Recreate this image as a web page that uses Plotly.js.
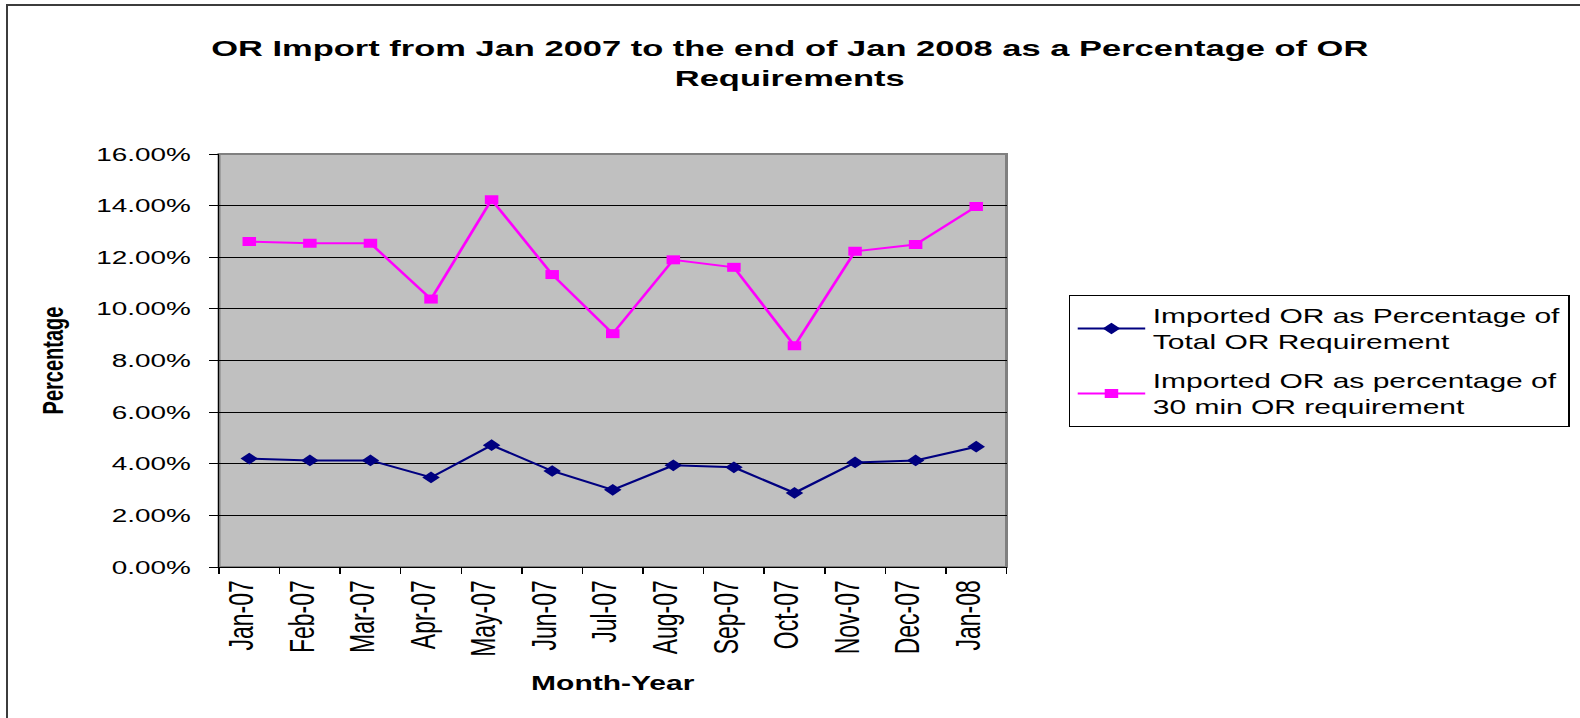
<!DOCTYPE html>
<html><head><meta charset="utf-8">
<script src="https://cdn.plot.ly/plotly-3.0.1.min.js"></script>
<style>
html,body{margin:0;padding:0;background:#fff;overflow:hidden;width:1580px;height:718px;}
#clip{position:absolute;left:0;top:0;width:1580px;height:718px;overflow:hidden;}
#wrap{position:absolute;left:0;top:0;width:1053px;height:718px;transform:scaleX(1.5);transform-origin:0 0;}
#frame{position:absolute;left:6px;top:4px;width:1640px;height:760px;box-sizing:border-box;border-top:2px solid #3c3c3c;border-left:2px solid #3c3c3c;pointer-events:none;}
</style></head><body>
<div id="clip">
<div id="wrap"><div id="chart" style="width:1053px;height:718px"></div></div>
<div id="frame"></div>
</div>
<script>
const months = ['Jan-07','Feb-07','Mar-07','Apr-07','May-07','Jun-07','Jul-07','Aug-07','Sep-07','Oct-07','Nov-07','Dec-07','Jan-08'];
const pctTotalReq = [0.0420,0.0413,0.0413,0.0347,0.0472,0.0372,0.0299,0.0394,0.0386,0.0287,0.0405,0.0413,0.0466];
const pct30MinReq = [0.1261,0.1254,0.1254,0.1038,0.1423,0.1133,0.0904,0.1190,0.1161,0.0857,0.1223,0.1249,0.1397];
const seriesNames = ['Imported OR as Percentage of<br>Total OR Requirement','Imported OR as percentage of<br>30 min OR requirement'];
const titleText = 'OR Import from Jan 2007 to the end of Jan 2008 as a Percentage of OR<br>Requirements';
const xTitle = 'Month-Year';
const yTitle = 'Percentage';

const FONT = 'Liberation Sans, Arial, sans-serif';
const traces = [
  {x: months, y: pctTotalReq, name: seriesNames[0], legendgroup: 'g1', type: 'scatter', mode: 'lines+markers',
   line: {color: '#000080', width: 2}, marker: {symbol: 'diamond', size: 9, color: '#000080'}},
  {x: months, y: pct30MinReq, name: seriesNames[1], legendgroup: 'g2', type: 'scatter', mode: 'lines+markers',
   line: {color: '#FF00FF', width: 2}, marker: {symbol: 'square', size: 9, color: '#FF00FF'}}
];
const layout = {
  width: 1053, height: 718,
  margin: {l: 146, r: 382, t: 154, b: 151, autoexpand: false},
  paper_bgcolor: '#ffffff', plot_bgcolor: '#C0C0C0',
  font: {family: FONT, color: '#000'},
  title: {text: titleText, font: {family: FONT, size: 23, weight: 'bold', color: '#000'},
          x: 0.5, xref: 'container', xanchor: 'center', y: 1 - 56/718, yref: 'container', yanchor: 'top'},
  xaxis: {type: 'category', range: [-0.5, 12.5], autorange: false, showline: true, linecolor: '#000', linewidth: 1, ticks: 'outside', tickson: 'boundaries',
          ticklen: 6, tickcolor: '#000', tickangle: -90, showgrid: false, zeroline: false,
          ticklabelstandoff: 3, ticklabelshift: -5,
          tickfont: {family: FONT, size: 23, color: '#000'},
          title: {text: xTitle, font: {family: FONT, size: 20, weight: 'bold', color: '#000'}, standoff: 20}},
  yaxis: {range: [0, 0.16], autorange: false, dtick: 0.02, tick0: 0, tickformat: '.2%', showline: true, linecolor: '#000', linewidth: 1,
          ticks: 'outside', ticklen: 6, tickcolor: '#000', showgrid: true, gridcolor: '#000', gridwidth: 1, zeroline: false,
          ticklabelstandoff: 8,
          tickfont: {family: FONT, size: 18.6, color: '#000'},
          title: {text: yTitle, font: {family: FONT, size: 20, weight: 'bold', color: '#000'}, standoff: 16}},
  legend: {x: 1.079, y: 0.6586, xanchor: 'left', yanchor: 'top', bgcolor: '#fff', bordercolor: '#000', borderwidth: 1,
           font: {family: FONT, size: 20, color: '#000'}, tracegroupgap: 10, itemwidth: 45},
  shapes: [{type: 'rect', xref: 'paper', yref: 'paper', x0: 0, x1: 1, y0: 0, y1: 1, line: {color: '#808080', width: 2}, layer: 'below'}],
  showlegend: true
};
Plotly.newPlot('chart', traces, layout, {displayModeBar: false, staticPlot: true});
</script>
</body></html>
